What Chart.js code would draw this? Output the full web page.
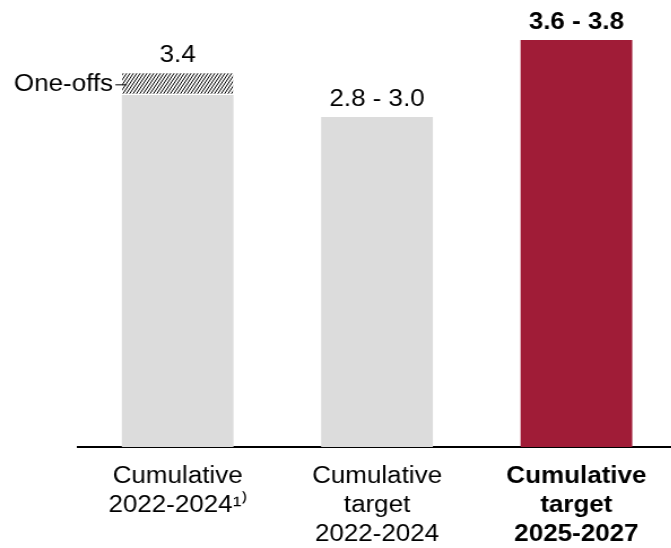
<!DOCTYPE html>
<html>
<head>
<meta charset="utf-8">
<script src="https://cdn.jsdelivr.net/npm/chart.js@4/dist/chart.umd.min.js"></script>
<style>
    html, body { margin: 0; padding: 0; background: #fff; overflow: hidden; }
    /* glyphs in this chart are drawn slightly wide */
    #wrap { width: 600px; height: 548px; overflow: hidden; transform: scaleX(1.13); transform-origin: 0 0; }
</style>
</head>
<body>
<div id="wrap"><canvas id="cumchart" width="600" height="565"></canvas></div>
<script>
'use strict'

var categories = [
    ['Cumulative', '2022-2024\u00B9\u207E'],
    ['Cumulative', 'target', '2022-2024'],
    ['Cumulative', 'target', '2025-2027']
];
var baseValues = [3.2, 3.0, 3.7];
var oneOffValues = [0.2, 0, 0];
var valueLabels = ['3.4', '2.8 - 3.0', '3.6 - 3.8'];
var boldIndex = 2;

var FONT = "'Liberation Sans', Arial, Helvetica, sans-serif";
Chart.defaults.font.family = FONT;
Chart.defaults.color = '#000';

/* steep diagonal hatch for the one-off part */
function hatchPattern(ctx) {
    var w = 3, h = 5;
    var c = document.createElement('canvas');
    c.width = w;
    c.height = h;
    var g = c.getContext('2d');
    g.fillStyle = '#ffffff';
    g.fillRect(0, 0, w, h);
    g.strokeStyle = '#000000';
    g.lineWidth = 1;
    g.beginPath();
    [-w, 0, w].forEach(function (dx) {
        // line through (dx, h) and (dx + w, 0), extended past the tile
        g.moveTo(dx - w * 0.2, h * 1.2);
        g.lineTo(dx + w * 1.2, -h * 0.2);
    });
    g.stroke();
    return ctx.createPattern(c, 'repeat');
}

/* value labels above the bars and the one-offs callout */
var barLabels = {
    id: 'barLabels',
    afterDatasetsDraw: function (chart) {
        var ctx = chart.ctx;
        var top = chart.getDatasetMeta(1).data;
        ctx.save();
        ctx.fillStyle = '#000';
        ctx.textAlign = 'center';
        ctx.textBaseline = 'middle';
        top.forEach(function (el, i) {
            ctx.font = (i === boldIndex ? 'bold ' : '') + '23px ' + FONT;
            ctx.fillText(valueLabels[i], el.x, el.y - 17.5);
        });
        // one-offs callout on the first bar
        var h = top[0];
        var midY = (h.y + h.base) / 2;
        var left = h.x - h.width / 2;
        ctx.font = '23px ' + FONT;
        ctx.textAlign = 'right';
        ctx.fillText('One-offs', left - 8, midY);
        ctx.strokeStyle = '#000';
        ctx.lineWidth = 1;
        ctx.beginPath();
        ctx.moveTo(left - 6, midY + 0.5);
        ctx.lineTo(left + 4, midY + 0.5);
        ctx.stroke();
        ctx.restore();
    }
};

var canvas = document.getElementById('cumchart');
var cumctx = canvas.getContext('2d');
var hatch = hatchPattern(cumctx);

var mychart = new Chart(cumctx, {
    type: 'bar',
    data: {
        labels: categories,
        datasets: [{
            label: 'Cumulative',
            data: baseValues,
            backgroundColor: ['#dcdcdc', '#dcdcdc', '#a01c37'],
            borderWidth: 0,
            barThickness: 98.2,
            stack: 's'
        }, {
            label: 'One-offs',
            data: oneOffValues,
            backgroundColor: function (c) {
                return c.raw > 0 ? hatch : 'rgba(0,0,0,0)';
            },
            borderColor: '#ffffff',
            borderWidth: function (c) {
                return c.raw > 0 ? { top: 0, left: 0, right: 0, bottom: 2 } : 0;
            },
            borderSkipped: false,
            barThickness: 98.2,
            stack: 's'
        }]
    },
    options: {
        responsive: false,
        animation: false,
        layout: {
            padding: { top: 7.4, left: 69, right: 1.7, bottom: 0 }
        },
        plugins: {
            legend: { display: false },
            tooltip: { enabled: false }
        },
        scales: {
            y: {
                display: false,
                stacked: true,
                min: 0,
                max: 4
            },
            x: {
                stacked: true,
                grid: { display: false, drawTicks: false },
                border: { display: true, color: '#000', width: 2 },
                ticks: {
                    autoSkip: false,
                    maxRotation: 0,
                    padding: 15.5,
                    color: '#000',
                    font: function (c) {
                        return { size: 23, lineHeight: 1.26, weight: c.index === boldIndex ? 'bold' : 'normal' };
                    }
                }
            }
        }
    },
    plugins: [barLabels]
});
</script>
</body>
</html>
